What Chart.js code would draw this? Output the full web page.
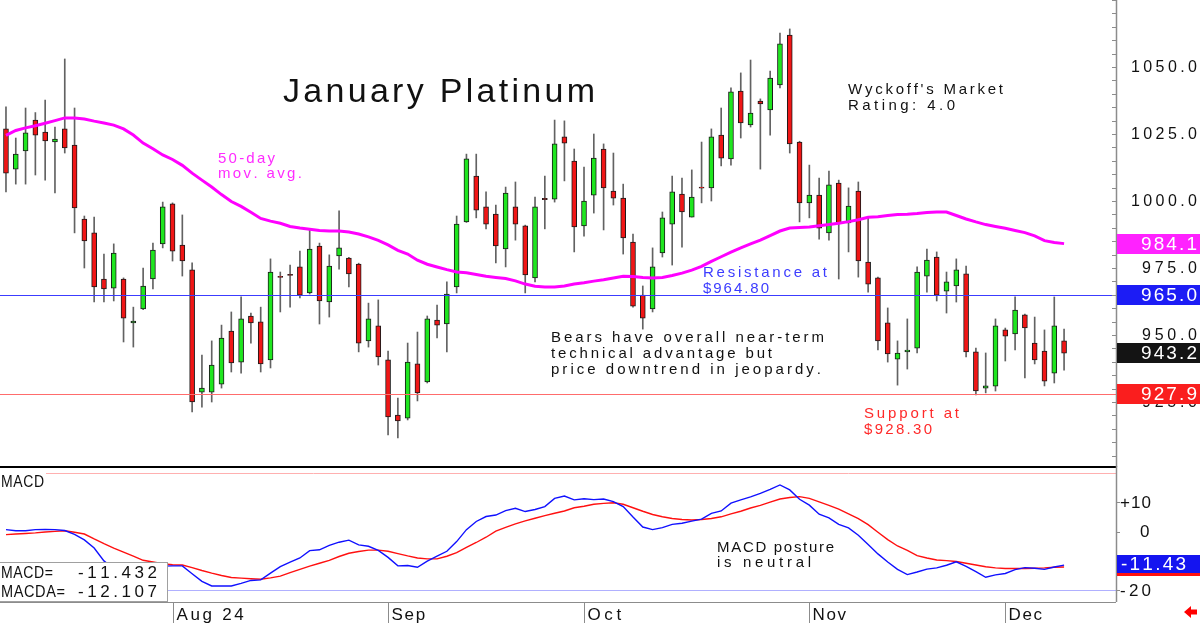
<!DOCTYPE html>
<html>
<head>
<meta charset="utf-8">
<script src="https://cdn.jsdelivr.net/npm/chart.js@4.4.1/dist/chart.umd.min.js"></script>
<style>
  html, body { margin: 0; padding: 0; background: #fff; }
  #wrap { position: relative; width: 1200px; height: 623px; overflow: hidden; background: #fff; }
  canvas { position: absolute; left: 0; }
  #main { top: 0; }
  #macd { top: 466px; }
</style>
</head>
<body>
<div id="wrap">
  <canvas id="main" width="1200" height="467"></canvas>
  <canvas id="macd" width="1200" height="157"></canvas>
</div>
<script>
// daily candles, January platinum futures (Jul - Dec 2024)
const opens = [
  1026.9,1011.9,1018.7,1030.2,1025.7,1022.0,1026.9,1020.9,993.3,988.1,
  970.9,967.5,970.9,954.5,959.7,970.9,984.0,998.9,983.6,974.3,
  928.7,928.7,931.7,951.5,939.9,957.1,954.9,940.7,971.9,972.6,
  975.4,965.7,983.2,962.3,979.5,978.7,976.5,947.8,953.4,940.7,
  920.1,919.0,939.2,932.5,955.6,954.1,967.9,992.2,1009.3,997.8,
  995.1,982.1,997.8,990.7,971.3,1001.0,1000.7,1023.9,1014.9,990.7,
  1002.2,1019.4,1003.7,1001.1,984.7,964.9,959.7,980.6,991.4,1002.6,
  994.0,1005.2,1004.9,1024.6,1015.7,1041.0,1028.4,1037.3,1034.0,1043.3,
  1061.9,1022.0,999.3,1002.2,988.1,1006.7,991.8,1003.7,977.2,971.3,
  954.5,941.0,943.7,945.1,972.0,979.1,966.4,968.3,972.8,943.7,
  930.2,930.9,951.9,950.4,957.5,947.0,944.0,935.8,947.8
];
const highs = [
  1035.1,1023.5,1034.7,1033.0,1037.7,1027.6,1053.0,1034.7,994.4,994.0,
  980.2,984.0,971.3,960.4,975.0,984.3,999.6,999.3,994.8,976.9,
  942.5,947.8,953.7,958.6,964.2,958.2,960.4,978.4,973.5,976.1,
  981.3,989.2,984.3,979.9,996.3,979.0,976.8,961.9,963.1,944.0,
  926.5,947.0,951.1,957.1,961.2,969.8,994.4,1017.5,1017.5,1003.4,
  998.5,1005.2,1007.1,991.0,1001.5,1009.3,1030.2,1029.9,1019.4,1012.7,
  1025.0,1021.3,1017.9,1006.3,987.7,968.3,982.5,995.9,1009.3,1008.6,
  1011.6,1022.0,1026.9,1034.7,1042.2,1047.8,1052.6,1038.1,1048.5,1062.7,
  1064.2,1022.3,1013.4,1008.6,1011.2,1007.8,1004.9,1007.1,994.0,971.6,
  960.1,947.8,956.0,975.4,982.1,981.0,973.5,978.4,975.7,945.1,
  943.3,956.0,952.6,964.2,957.8,956.7,951.9,964.2,952.2
];
const lows = [
  1003.4,1006.3,1006.3,1009.7,1007.8,1003.0,1017.9,988.1,975.0,962.3,
  962.3,962.7,947.4,945.5,959.5,967.2,982.5,977.6,972.0,921.3,
  923.1,925.0,930.2,936.2,935.8,947.0,936.2,937.7,958.6,960.4,
  963.8,965.3,954.1,956.7,974.6,967.9,943.7,945.5,938.8,912.7,
  911.6,918.3,925.4,932.1,948.9,943.7,965.7,992.0,993.7,989.6,
  976.9,975.4,985.4,965.7,969.8,989.6,999.6,1007.5,981.0,986.9,
  995.5,989.2,998.5,980.2,960.4,952.2,958.6,979.1,976.1,982.8,
  994.0,999.3,1000.0,1013.1,1013.4,1023.5,1027.6,1011.9,1024.6,1042.2,
  1017.9,992.2,993.7,985.8,985.4,970.9,981.0,971.6,966.0,944.4,
  939.9,931.3,937.3,943.3,966.0,962.7,958.2,962.3,941.8,927.6,
  928.4,929.1,940.3,944.4,934.0,939.2,931.0,932.1,936.9
];
const closes = [
  1010.4,1017.5,1025.4,1024.6,1022.4,1023.1,1019.8,997.4,985.1,967.9,
  967.2,980.6,956.3,955.2,968.3,981.7,997.8,981.3,977.6,925.0,
  930.2,938.8,948.9,939.6,956.0,954.5,939.2,973.5,971.5,972.2,
  964.9,982.1,962.7,975.7,982.5,972.8,947.0,956.0,941.8,919.4,
  917.9,939.9,928.4,956.0,953.7,965.3,991.4,1015.7,996.6,991.4,
  983.2,1003.0,991.4,972.4,997.8,1000.5,1021.3,1021.6,990.3,1000.0,
  1016.0,1004.9,1001.1,986.2,960.8,956.3,975.4,993.7,1003.4,995.9,
  1001.5,1004.8,1023.9,1016.0,1040.7,1029.1,1032.8,1036.2,1045.9,1058.6,
  1021.3,999.3,1002.2,989.9,1006.0,991.8,998.1,977.6,969.0,947.8,
  942.9,943.3,944.4,973.5,978.0,964.9,969.8,974.3,943.7,929.1,
  931.0,953.4,949.6,959.3,952.6,940.7,932.8,953.4,943.2
];
const ma50 = [
  1024.5,1026.3,1027.3,1028.1,1029.0,1030.0,1031.0,1031.0,1030.6,1029.8,
  1029.1,1028.3,1026.9,1024.6,1021.6,1019.5,1017.2,1015.5,1013.3,1010.4,
  1007.8,1005.2,1002.4,999.8,998.0,995.8,993.5,992.5,991.7,990.5,
  989.9,989.5,989.0,988.8,988.8,988.4,987.7,986.6,985.3,983.6,
  981.6,980.2,977.9,976.4,975.4,974.4,973.5,973.2,972.6,971.9,
  971.5,971.1,970.2,969.0,968.2,967.9,967.9,968.3,969.0,969.5,
  970.1,970.6,971.3,971.9,971.8,971.5,971.3,971.5,972.2,973.1,
  974.2,975.6,977.5,979.2,980.9,982.5,984.0,985.4,987.1,988.8,
  989.9,990.1,990.3,990.8,991.2,991.7,992.3,993.0,993.9,994.1,
  994.6,995.0,995.1,995.3,995.7,995.9,995.9,994.6,993.3,992.2,
  991.2,990.5,989.8,989.0,988.2,987.0,985.2,984.5,984.1
];
const macd = [
  0.7,0.3,0.3,0.7,0.8,0.7,0.4,-0.9,-2.8,-5.6,
  -10.0,-12.8,-13.8,-14.0,-13.5,-12.6,-11.8,-11.7,-11.7,-14.4,
  -17.0,-18.6,-18.6,-18.6,-17.7,-16.7,-16.5,-14.2,-12.0,-10.4,
  -9.0,-6.5,-6.2,-4.7,-3.6,-2.9,-4.5,-5.0,-6.4,-8.8,
  -11.7,-11.6,-12.2,-10.1,-8.4,-6.7,-3.4,0.7,3.5,5.2,
  5.7,7.2,8.0,6.9,7.6,8.6,11.4,12.2,10.9,11.3,
  11.0,11.2,10.3,8.6,5.0,1.6,0.7,1.4,2.5,2.9,
  3.6,4.3,6.3,7.1,9.8,10.9,11.9,13.1,14.5,16.0,
  14.3,11.1,9.1,6.0,4.7,2.5,1.3,-1.2,-4.4,-7.6,
  -10.4,-12.9,-14.7,-13.8,-12.8,-12.4,-11.5,-10.3,-11.9,-13.7,
  -15.6,-14.8,-14.3,-13.0,-12.3,-12.5,-12.9,-12.1,-11.432
];
const macdAvg = [
  -1.0,-0.8,-0.6,-0.4,-0.1,0.1,0.3,-0.2,-0.8,-2.5,
  -4.1,-5.6,-7.0,-8.4,-9.8,-10.4,-11.0,-11.3,-11.4,-12.3,
  -13.3,-14.2,-15.0,-15.7,-15.9,-16.1,-16.3,-15.8,-15.2,-14.0,
  -12.9,-11.8,-10.8,-9.8,-8.5,-7.4,-6.8,-6.3,-6.3,-6.7,
  -7.5,-8.3,-9.0,-9.3,-9.3,-8.4,-7.2,-5.4,-3.7,-1.9,
  0.2,1.5,2.7,3.7,4.6,5.5,6.3,7.1,8.2,8.7,
  9.4,9.7,9.9,9.4,8.2,7.0,5.9,5.1,4.5,4.2,
  4.0,4.2,4.5,5.1,6.1,7.0,8.1,9.0,10.1,11.2,
  11.7,12.0,11.4,10.2,9.0,7.7,6.1,4.5,2.4,-0.2,
  -2.7,-4.9,-6.4,-8.2,-9.0,-9.7,-9.9,-10.2,-10.8,-11.4,
  -12.0,-12.4,-12.6,-12.6,-12.6,-12.5,-12.4,-12.2,-12.107
];

const monthIdx = [17, 39, 59, 82, 102];
const monthLabels = ['Aug 24', 'Sep', 'Oct', 'Nov', 'Dec'];
const priceTicks = [925, 950, 975, 1000, 1025, 1050];
const macdTicks = [10, 0, -10, -20];
const macdTickLabels = ['+10', '0', '-10', '-20'];
const resistance = 965.0;
const support = 927.9;

const FONT = '"Liberation Sans", Arial, sans-serif';
const GREEN = '#1fe61f';
const RED = '#f01616';
const X_MIN = -0.61, X_MAX = 113.3;

// draws text spread (or squeezed) so that it fills a given width
function spaced(ctx, text, x, y, width, align) {
  const chars = [...text];
  const n = chars.length;
  const ws = chars.map(c => ctx.measureText(c).width);
  const raw = ws.reduce((s, w) => s + w, 0);
  let gap = n > 1 ? (width - raw) / (n - 1) : 0;
  let sx = 1;
  if (n > 1 && gap < 0.6) {
    gap = 0.6;
    sx = (width - gap * (n - 1)) / raw;
  }
  let cx = align === 'right' ? x - width : x;
  ctx.textAlign = 'left';
  chars.forEach((c, i) => {
    ctx.save();
    ctx.translate(cx, y);
    ctx.scale(sx, 1);
    ctx.fillText(c, 0, 0);
    ctx.restore();
    cx += ws[i] * sx + gap;
  });
}

function hline(ctx, y, x0, x1, color, w) {
  ctx.strokeStyle = color;
  ctx.lineWidth = w || 1;
  ctx.beginPath();
  ctx.moveTo(x0, Math.round(y) + 0.5);
  ctx.lineTo(x1, Math.round(y) + 0.5);
  ctx.stroke();
}

const mainDecor = {
  id: 'mainDecor',
  afterDatasetsDraw(chart) {
    const { ctx, chartArea: a, scales: { y } } = chart;
    ctx.save();
    hline(ctx, y.getPixelForValue(resistance), a.left, a.right, '#3c3cff');
    hline(ctx, y.getPixelForValue(support), a.left, a.right, '#ff6c6c');

    // right axis
    ctx.strokeStyle = '#8c8c8c';
    ctx.lineWidth = 1.5;
    ctx.beginPath();
    ctx.moveTo(a.right + 0.5, 0);
    ctx.lineTo(a.right + 0.5, a.bottom);
    ctx.stroke();
    ctx.lineWidth = 1;
    for (let v = 905; v <= 1075; v += 5) {
      const py = Math.round(y.getPixelForValue(v)) + 0.5;
      ctx.beginPath();
      ctx.moveTo(a.right - 4, py);
      ctx.lineTo(a.right, py);
      ctx.stroke();
    }
    ctx.fillStyle = '#111';
    ctx.font = '16px ' + FONT;
    ctx.textBaseline = 'middle';
    priceTicks.forEach(v => {
      const t = v.toFixed(1);
      spaced(ctx, t, 1197, y.getPixelForValue(v) + 1, t.length * 11, 'right');
    });

    // value boxes on the axis
    const boxes = [
      [ma50[ma50.length - 1], '#ff22ff'],
      [resistance, '#1c1cf5'],
      [closes[closes.length - 1], '#141414'],
      [support, '#fa1e1e']
    ];
    ctx.font = '19px ' + FONT;
    boxes.forEach(([v, bg]) => {
      const py = y.getPixelForValue(v);
      ctx.fillStyle = bg;
      ctx.fillRect(a.right + 1, Math.round(py) - 10, 1200 - a.right, 20);
      ctx.fillStyle = '#fff';
      spaced(ctx, v.toFixed(1), 1197, py + 1, 56, 'right');
    });

    // annotations
    ctx.textBaseline = 'alphabetic';
    const notes = [
      ['January Platinum', 283, 102, 312, 34, '#111'],
      ["Wyckoff's Market", 848, 94, 155, 15, '#111'],
      ['Rating: 4.0', 848, 110, 107, 15, '#111'],
      ['50-day', 218, 163, 57, 15, '#ff2cff'],
      ['mov. avg.', 218, 178, 84, 15, '#ff2cff'],
      ['Resistance at', 703, 277, 124, 15, '#3c3cff'],
      ['$964.80', 703, 293, 66, 15, '#3c3cff'],
      ['Bears have overall near-term', 551, 342, 273, 15, '#111'],
      ['technical advantage but', 551, 358, 221, 15, '#111'],
      ['price downtrend in jeopardy.', 551, 374, 270, 15, '#111'],
      ['Support at', 864, 418, 95, 15, '#ff2a2a'],
      ['$928.30', 864, 434, 68, 15, '#ff2a2a']
    ];
    notes.forEach(([t, x, yy, w, s, c]) => {
      ctx.font = s + 'px ' + FONT;
      ctx.fillStyle = c;
      spaced(ctx, t, x, yy, w);
    });
    ctx.restore();
  }
};

new Chart(document.getElementById('main'), {
  type: 'bar',
  data: {
    datasets: [
      {
        type: 'line',
        data: ma50.map((v, i) => ({ x: i, y: v })),
        borderColor: '#ff00ff',
        borderWidth: 3,
        pointRadius: 0,
        tension: 0,
        order: 0
      },
      {
        type: 'bar',
        data: opens.map((o, i) => ({ x: i, y: [o, closes[i]] })),
        backgroundColor: opens.map((o, i) => closes[i] >= o ? GREEN : RED),
        borderColor: '#1a1a1a',
        borderWidth: 1,
        borderSkipped: false,
        barThickness: 5,
        grouped: false,
        order: 1
      },
      {
        type: 'bar',
        data: lows.map((l, i) => ({ x: i, y: [l, highs[i]] })),
        backgroundColor: '#626262',
        borderWidth: 0,
        barThickness: 1,
        grouped: false,
        order: 2
      }
    ]
  },
  options: {
    responsive: false,
    animation: false,
    devicePixelRatio: 1,
    events: [],
    layout: { padding: { right: 84 } },
    scales: {
      x: { type: 'linear', min: X_MIN, max: X_MAX, display: false, offset: false },
      y: { min: 900.75, max: 1075, display: false }
    },
    plugins: { legend: { display: false }, tooltip: { enabled: false } }
  },
  plugins: [mainDecor]
});

const macdDecor = {
  id: 'macdDecor',
  beforeDatasetsDraw(chart) {
    const { ctx, chartArea: a, scales: { y } } = chart;
    ctx.save();
    hline(ctx, y.getPixelForValue(20), 46, a.right, '#ffb0b0');
    hline(ctx, y.getPixelForValue(-20), a.left, a.right, '#b0b0ff');
    ctx.restore();
  },
  afterDatasetsDraw(chart) {
    const { ctx, chartArea: a, scales: { x, y } } = chart;
    ctx.save();
    // frame
    ctx.fillStyle = '#000';
    ctx.fillRect(0, 0, a.right + 1, 2);
    ctx.strokeStyle = '#8c8c8c';
    ctx.lineWidth = 1.5;
    ctx.beginPath();
    ctx.moveTo(a.right + 0.5, 0);
    ctx.lineTo(a.right + 0.5, a.bottom);
    ctx.stroke();
    ctx.lineWidth = 1;
    hline(ctx, a.bottom, 0, a.right, '#8c8c8c');

    // y ticks
    ctx.fillStyle = '#111';
    ctx.font = '17px ' + FONT;
    ctx.textBaseline = 'middle';
    macdTicks.forEach((v, i) => {
      const py = y.getPixelForValue(v);
      ctx.strokeStyle = '#8c8c8c';
      ctx.beginPath();
      ctx.moveTo(a.right, Math.round(py) + 0.5);
      ctx.lineTo(a.right + 4, Math.round(py) + 0.5);
      ctx.stroke();
      const t = macdTickLabels[i];
      spaced(ctx, t, 1151, py + 1, t.length === 1 ? 11 : 31, 'right');
    });

    // month axis
    ctx.textBaseline = 'alphabetic';
    monthIdx.forEach((m, i) => {
      const px = Math.round(x.getPixelForValue(m)) + 0.5;
      ctx.strokeStyle = '#8c8c8c';
      ctx.beginPath();
      ctx.moveTo(px, a.bottom);
      ctx.lineTo(px, 157);
      ctx.stroke();
      ctx.fillStyle = '#111';
      spaced(ctx, monthLabels[i], px + 3, 154, monthLabels[i].length * 11.2);
    });

    // labels
    ctx.font = '16px ' + FONT;
    ctx.fillStyle = '#111';
    spaced(ctx, 'MACD', 1, 21, 43);
    ctx.font = '15px ' + FONT;
    spaced(ctx, 'MACD posture', 717, 86, 117);
    spaced(ctx, 'is neutral', 717, 101, 94);

    // values box
    ctx.fillStyle = '#fff';
    ctx.fillRect(0, 96, 168, 39);
    ctx.strokeStyle = '#a0a0a0';
    ctx.strokeRect(-0.5, 96.5, 168, 39);
    ctx.fillStyle = '#111';
    ctx.font = '17px ' + FONT;
    const lastM = macd[macd.length - 1], lastA = macdAvg[macdAvg.length - 1];
    spaced(ctx, 'MACD=', 1, 112, 52);
    spaced(ctx, lastM.toFixed(3), 157, 112, 79, 'right');
    spaced(ctx, 'MACDA=', 1, 131, 64);
    spaced(ctx, lastA.toFixed(3), 157, 131, 79, 'right');

    // right value boxes
    const pa = y.getPixelForValue(lastA);
    ctx.fillStyle = '#ff1010';
    ctx.fillRect(a.right + 1, Math.round(pa) - 9, 1200 - a.right, 18);
    const pm = y.getPixelForValue(lastM);
    ctx.fillStyle = '#1414f0';
    ctx.fillRect(a.right + 1, Math.round(pm) - 10, 1200 - a.right, 18);
    ctx.fillStyle = '#fff';
    ctx.font = '19px ' + FONT;
    ctx.textBaseline = 'middle';
    spaced(ctx, lastM.toFixed(2), 1121, pm, 65);

    // little red arrow
    ctx.fillStyle = '#ff0000';
    ctx.beginPath();
    ctx.moveTo(1184, 146);
    ctx.lineTo(1191, 140);
    ctx.lineTo(1191, 143.5);
    ctx.lineTo(1197, 143.5);
    ctx.lineTo(1197, 148.5);
    ctx.lineTo(1191, 148.5);
    ctx.lineTo(1191, 152);
    ctx.closePath();
    ctx.fill();
    ctx.restore();
  }
};

new Chart(document.getElementById('macd'), {
  type: 'line',
  data: {
    datasets: [
      {
        data: macd.map((v, i) => ({ x: i, y: v })),
        borderColor: '#1010ff',
        borderWidth: 1.4,
        pointRadius: 0,
        tension: 0
      },
      {
        data: macdAvg.map((v, i) => ({ x: i, y: v })),
        borderColor: '#ff1010',
        borderWidth: 1.4,
        pointRadius: 0,
        tension: 0
      }
    ]
  },
  options: {
    responsive: false,
    animation: false,
    devicePixelRatio: 1,
    events: [],
    layout: { padding: { right: 84, bottom: 21 } },
    scales: {
      x: { type: 'linear', min: X_MIN, max: X_MAX, display: false },
      y: { min: -24.08, max: 22.5, display: false }
    },
    plugins: { legend: { display: false }, tooltip: { enabled: false } }
  },
  plugins: [macdDecor]
});
</script>
</body>
</html>
